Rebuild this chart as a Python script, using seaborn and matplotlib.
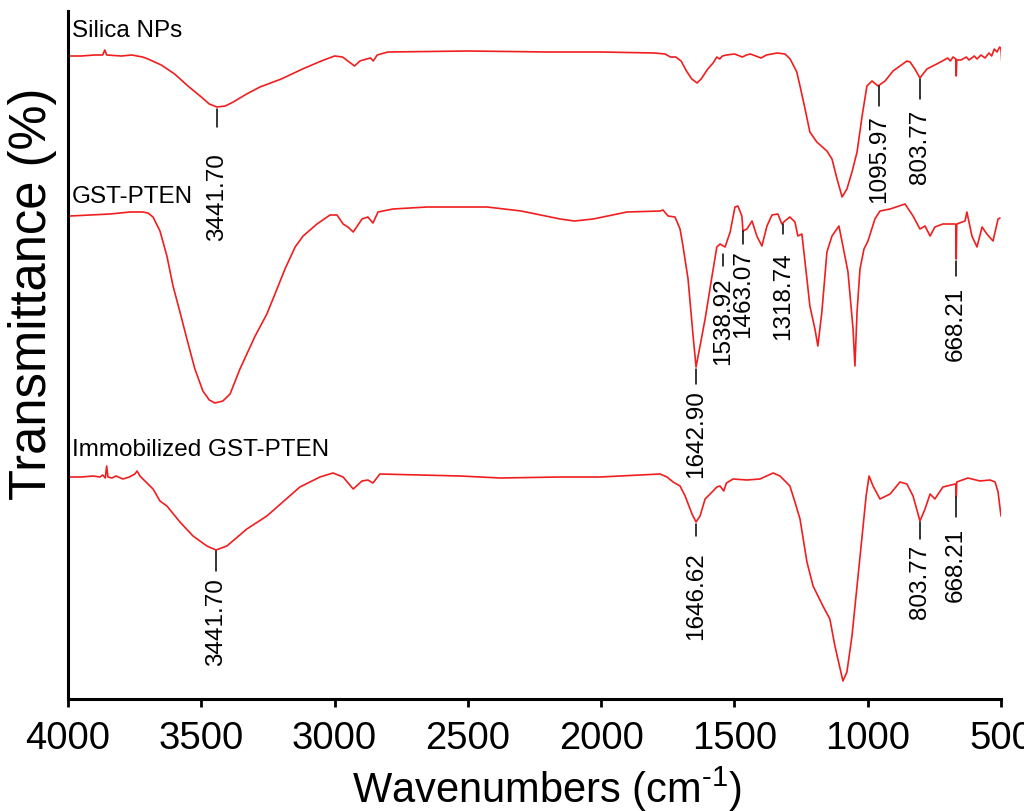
import numpy as np
import pandas as pd
import matplotlib
matplotlib.use("Agg")
import matplotlib.pyplot as plt
import seaborn as sns

# ---------------- data ----------------
sample_names = ["Silica NPs", "GST-PTEN", "Immobilized GST-PTEN"]

silica_wn = [4000, 3950, 3900, 3870, 3862, 3855, 3800, 3760, 3741, 3720, 3700, 3650, 3600,
             3550, 3500, 3470, 3441, 3410, 3380, 3330, 3280, 3200, 3120, 3050, 3000, 2970,
             2945, 2925, 2905, 2880, 2865, 2855, 2840, 2800, 2500, 2200, 2000, 1800, 1760,
             1740, 1720, 1700, 1680, 1660, 1640, 1625, 1600, 1580, 1566, 1555, 1545, 1530,
             1500, 1470, 1455, 1440, 1420, 1400, 1380, 1340, 1310, 1291, 1266, 1254, 1235,
             1217, 1191, 1153, 1134, 1115, 1096, 1078, 1059, 1040, 1021, 1003, 984, 961, 935,
             905, 853, 841, 823, 804, 778, 741, 720, 700, 690, 680, 669, 668, 666, 650, 630,
             620, 600, 590, 575, 560, 545, 535, 525, 515, 505, 500, 496]
silica_t = [643, 643, 644, 644, 649, 644, 643, 644, 643, 642, 640, 634, 625,
            613, 602, 595, 592, 593, 597, 605, 612, 620, 630, 638, 643, 642,
            637, 633, 638, 640, 641, 638, 644, 647, 648, 647, 647, 646, 645,
            642, 642, 638, 628, 620, 616, 620, 630, 636, 642, 640, 643, 644,
            645, 642, 644, 645, 643, 641, 644, 646, 645, 640, 627, 613, 590,
            567, 557, 548, 540, 520, 502, 510, 527, 547, 583, 613, 618, 613, 618,
            628, 638, 637, 630, 621, 630, 635, 638, 641, 638, 642, 640, 623, 639, 639, 642,
            639, 643, 640, 644, 641, 646, 643, 650, 647, 652, 650, 633]

gst_wn = [4000, 3992, 3842, 3767, 3741, 3719, 3700, 3681, 3655, 3629, 3606, 3580, 3554,
          3524, 3494, 3470, 3449, 3419, 3392, 3355, 3298, 3254, 3216, 3186, 3148, 3118,
          3066, 3017, 2991, 2968, 2950, 2930, 2897, 2875, 2856, 2837, 2781, 2653, 2428,
          2300, 2154, 2100, 2030, 1903, 1779, 1768, 1749, 1723, 1704, 1693, 1674, 1655,
          1644, 1629, 1610, 1584, 1566, 1554, 1535, 1516, 1498, 1487, 1472, 1468, 1453,
          1434, 1416, 1397, 1378, 1359, 1337, 1322, 1311, 1292, 1273, 1262, 1247, 1228,
          1217, 1198, 1187, 1172, 1153, 1134, 1108, 1093, 1074, 1055, 1048, 1040, 1029,
          1014, 999, 973, 954, 916, 860, 830, 804, 785, 766, 748, 718, 672, 669, 668, 666,
          635, 628, 609, 590, 571, 553, 530, 511, 504]
gst_t = [483, 483, 485, 487, 487, 487, 486, 482, 468, 443, 413, 387, 360,
         330, 308, 299, 296, 298, 305, 330, 363, 385, 410, 430, 452, 463,
         475, 484, 484, 475, 472, 467, 480, 482, 476, 487, 490, 492, 492,
         488, 480, 478, 480, 487, 488, 489, 483, 482, 470, 453, 420, 363,
         332, 353, 380, 423, 452, 455, 452, 467, 492, 493, 483, 468, 470,
         478, 463, 453, 473, 484, 485, 475, 478, 482, 477, 463, 465, 420,
         393, 370, 353, 387, 447, 463, 473, 453, 427, 370, 333, 387, 430,
         450, 458, 480, 488, 490, 495, 483, 470, 473, 463, 472, 475, 475, 474, 440, 475,
         478, 487, 463, 452, 472, 465, 458, 480, 481]

imm_wn = [4000, 3992, 3950, 3906, 3880, 3870, 3860, 3855, 3850, 3835, 3820, 3794, 3770,
          3749, 3741, 3730, 3719, 3681, 3655, 3629, 3580, 3531, 3479, 3445, 3404, 3329,
          3254, 3130, 3055, 3006, 2968, 2930, 2897, 2875, 2856, 2830, 2529, 2379, 2154,
          2004, 1779, 1753, 1730, 1704, 1685, 1659, 1644, 1629, 1610, 1580, 1566, 1554,
          1540, 1530, 1505, 1453, 1404, 1355, 1329, 1292, 1273, 1254, 1228, 1205, 1168,
          1142, 1123, 1093, 1078, 1059, 1040, 1021, 1006, 995, 980, 954, 916, 879, 853,
          830, 804, 785, 766, 748, 718, 672, 669, 668, 666, 624, 579, 541, 522, 511, 500]
imm_t = [222, 222, 222, 223, 222, 224, 221, 233, 222, 221, 223, 220, 222,
         225, 228, 223, 220, 210, 198, 193, 177, 163, 153, 149, 153, 170,
         183, 212, 222, 226, 222, 210, 218, 219, 216, 225, 223, 221, 222,
         222, 225, 222, 217, 213, 203, 185, 177, 183, 200, 208, 212, 213,
         208, 216, 220, 219, 220, 226, 223, 213, 197, 180, 137, 113, 93,
         80, 53, 18, 27, 63, 113, 163, 203, 223, 213, 200, 205, 217, 215,
         203, 178, 190, 205, 200, 212, 215, 214, 202, 217, 221, 218, 219, 217, 207, 183]

# peak annotations: sample, label text, wavenumber, line top, line bottom, text top
peak_sample = [0, 0, 0, 1, 1, 1, 1, 1, 2, 2, 2, 2]
peak_text = ["3441.70", "1095.97", "803.77",
             "1642.90", "1538.92", "1463.07", "1318.74", "668.21",
             "3441.70", "1646.62", "803.77", "668.21"]
peak_wn = [3441, 958, 804, 1644, 1543, 1468, 1318, 669, 3445, 1644, 804, 669]
peak_line_top = [590, 613, 620, 330, 445, 468, 475, 438, 148, 175, 177, 202]
peak_line_bot = [572, 593, 600, 315, 433, 455, 465, 423, 128, 163, 160, 182]
peak_text_top = [547, 585, 590, 310, 423, 450, 448, 413, 122, 148, 155, 172]

# sample name label anchors (wavenumber, baseline value)
name_wn = [3985, 3985, 3985]
name_t = [663, 497, 244]

xticks = [4000, 3500, 3000, 2500, 2000, 1500, 1000, 500]

# ---------------- plotting ----------------
sns.set_theme(style="white")
plt.rcParams['font.family'] = ['Liberation Sans', 'DejaVu Sans']
plt.rcParams['mathtext.default'] = 'regular'
plt.rcParams['text.color'] = 'black'
plt.rcParams['axes.labelcolor'] = 'black'
plt.rcParams['xtick.color'] = 'black'
plt.rcParams['xtick.labelcolor'] = 'black'

fig = plt.figure(figsize=(10.24, 8.12), dpi=100)
ax = fig.add_axes([68 / 1024, 1 - 700 / 812, (1001 - 68) / 1024, (700 - 12) / 812])

red = '#f01e1e'
frames = []
for name, wn, t in zip(sample_names, [silica_wn, gst_wn, imm_wn], [silica_t, gst_t, imm_t]):
    frames.append(pd.DataFrame({"wn": wn, "t": t, "sample": name}))
df = pd.concat(frames, ignore_index=True)

for name in sample_names:
    sub = df[df["sample"] == name]
    sns.lineplot(data=sub, x="wn", y="t", color=red, linewidth=1.2,
                 estimator=None, sort=False, ax=ax, legend=False)

for s, txt, w, lt, lb, tt in zip(peak_sample, peak_text, peak_wn,
                                 peak_line_top, peak_line_bot, peak_text_top):
    ax.plot([w, w], [lb, lt], color='black', linewidth=1.1)
    ax.text(w, tt, txt, rotation=90, ha='center', va='top', fontsize=17.5, color='black')

for name, w, t in zip(sample_names, name_wn, name_t):
    ax.text(w, t, name, ha='left', va='baseline', fontsize=17.5, color='black')

ax.set_xlim(4000, 500)
ax.set_ylim(0, 688)
ax.set_xticks(xticks)
ax.set_xticklabels([str(v) for v in xticks])
ax.set_yticks([])
ax.tick_params(axis='x', direction='out', length=6, width=2, labelsize=27.5, pad=9,
               bottom=True, color='black', labelcolor='black')

for side in ['top', 'right']:
    ax.spines[side].set_visible(False)
for side in ['left', 'bottom']:
    ax.spines[side].set_linewidth(2.2)
    ax.spines[side].set_color('black')

ax.set_xlabel('Wavenumbers (cm$^{\u2010 1}$)', fontsize=30, color='black')
ax.set_ylabel('Transmittance (%)', fontsize=36.5, color='black')
ax.xaxis.label.set_va('baseline')
ax.xaxis.set_label_coords(0.513, -0.149)
ax.yaxis.set_label_coords(-0.012, 0.590)

fig.savefig('out.png', dpi=100)
